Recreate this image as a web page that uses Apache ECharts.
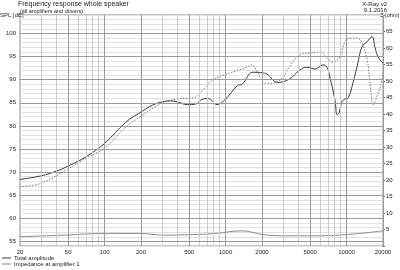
<!DOCTYPE html>
<html>
<head>
<meta charset="utf-8">
<script src="https://cdn.jsdelivr.net/npm/echarts@6/dist/echarts.min.js"></script>
<style>
    html, body { margin: 0; padding: 0; background: #fff; }
    #chart { width: 400px; height: 270px; }
</style>
</head>
<body>
<div id="chart"></div>
<script>
// x-axis labels and grid frequencies (Hz)
const freqLabels = [20, 50, 100, 200, 500, 1000, 2000, 5000, 10000, 20000]
const freqMinor = [30, 40, 60, 70, 80, 90, 300, 400, 600, 700, 800, 900,
    3000, 4000, 6000, 7000, 8000, 9000]
const splLines = [55, 60, 65, 70, 75, 80, 85, 90, 95, 100]

// total amplitude (dB)
const ampFreq = [20, 30, 40, 50, 70, 100, 150, 200, 250, 300, 350, 400, 480, 560, 650, 720, 850, 1000,
    1250, 1370, 1680, 2000, 2200, 2700, 3400, 4100, 4700, 5500, 6380, 6890, 7300, 8020, 8340, 8660,
    9160, 9700, 10280, 11300, 12400, 13400, 14760, 16200, 17200, 18200, 20000]
const ampDb = [68.4, 69.2, 70.2, 71.3, 73.3, 76.2, 80.8, 83, 84.5, 85.2, 85.4, 85.2, 84.6, 84.7, 85.8, 85.9, 84.6, 85.8,
    88.7, 89, 91.6, 91.5, 91.2, 89.4, 90.2, 92.1, 92.7, 92.3, 93.2, 92.7, 90.4, 85.6, 82.4, 82.8,
    85.2, 85.8, 86, 89.3, 93.6, 97.1, 98.2, 99.3, 96.9, 94.9, 93.6]

// second (dotted) response (dB)
const refFreq = [20, 30, 50, 70, 100, 150, 200, 250, 300, 400, 500, 560, 650, 780, 1100, 1500, 1650, 1830,
    2030, 2250, 2650, 3000, 3400, 4100, 5000, 6000, 6900, 7700, 8800, 9700, 10700, 12200, 13400,
    14800, 15600, 16600, 17800, 19000, 20000]
const refDb = [66.8, 67.6, 70.7, 73, 75.2, 79.8, 82.1, 83.8, 85, 85.8, 86, 86.2, 87.8, 89.9, 91.5, 92.7, 93.2, 91.7,
    89.5, 89.2, 89.5, 90.6, 93, 95.3, 95.8, 96, 94.7, 93.8, 94.9, 98.2, 99, 99, 98,
    94.3, 89.5, 84.5, 86.3, 88.4, 91.4]

// impedance (ohm)
const impFreq = [20, 47, 100, 190, 315, 590, 820, 1370, 2000, 2900, 5500, 10300, 20000]
const impOhm = [2.8, 3.3, 3.8, 3.8, 3.3, 3.5, 3.8, 4.6, 3.5, 3.1, 3.1, 3.5, 4.6]

const lg = Math.log10
const pairs = (fs, vs) => fs.map((f, i) => [lg(f), vs[i]])

const font = 'Liberation Sans'
const txt = { color: '#222', fontFamily: font, fontSize: 6 }

const gridLines = []
freqMinor.forEach(f => gridLines.push({ xAxis: lg(f), lineStyle: { color: '#cccccc' } }))
freqLabels.forEach(f => gridLines.push({ xAxis: lg(f), lineStyle: { color: '#9a9a9a' } }))
splLines.forEach(v => gridLines.push({ yAxis: v, lineStyle: { color: '#9a9a9a' } }))

const legendBase = {
    left: 2,
    itemGap: 0,
    itemWidth: 9,
    itemHeight: 1,
    icon: 'rect',
    padding: 0,
    textStyle: { color: '#222', fontFamily: font, fontSize: 6, padding: [0, 0, 0, -2] }
}

const myChart = echarts.init(document.getElementById('chart'))

const option = {
    animation: false,
    backgroundColor: '#fff',
    grid: { left: 20, right: 17, top: 15, bottom: 24, show: true, borderColor: '#888', borderWidth: 1 },
    legend: [
        { ...legendBase, top: 255, data: ['Total amplitude'] },
        { ...legendBase, top: 261, data: ['Impedance at amplifier 1'] }
    ],
    graphic: [
        { type: 'text', left: 18, top: 1, style: { text: 'Frequency response whole speaker', fill: '#222', font: '7px ' + font } },
        { type: 'text', left: 20, top: 8, style: { text: '(all amplifiers and drivers)', fill: '#222', font: '5.5px ' + font } },
        { type: 'text', left: 0, top: 12, style: { text: 'SPL [dB]', fill: '#222', font: '6px ' + font } },
        { type: 'text', right: 13, top: 1, style: { text: 'X-Ray v2', fill: '#222', font: '6px ' + font } },
        { type: 'text', right: 13, top: 7, style: { text: '9.1.2016', fill: '#222', font: '6px ' + font } },
        { type: 'text', right: 1, top: 12, style: { text: 'Z [ohm]', fill: '#222', font: '5.5px ' + font } }
    ],
    xAxis: {
        type: 'value',
        min: lg(20),
        max: lg(20000),
        axisLine: { show: false },
        axisTick: { show: false },
        splitLine: { show: false },
        axisLabel: {
            ...txt,
            margin: 3,
            customValues: freqLabels.map(lg),
            formatter: v => String(Math.round(Math.pow(10, v)))
        }
    },
    yAxis: [
        {
            type: 'value',
            min: 54,
            max: 104,
            interval: 1,
            axisLine: { show: false },
            axisTick: { show: false },
            splitLine: { lineStyle: { color: '#e2e2e2', width: 1 } },
            axisLabel: { ...txt, margin: 4, formatter: v => (v % 5 === 0 ? String(v) : '') }
        },
        {
            type: 'value',
            min: 0,
            max: 70,
            interval: 5,
            axisLine: { show: false },
            axisTick: { show: true, length: 2, lineStyle: { color: '#666' } },
            splitLine: { show: false },
            axisLabel: { ...txt, margin: 3, formatter: v => (v > 0 && v < 70 ? String(v) : '') }
        }
    ],
    series: [
        {
            name: 'Grid',
            type: 'line',
            data: [],
            silent: true,
            markLine: {
                silent: true,
                symbol: 'none',
                label: { show: false },
                animation: false,
                lineStyle: { type: 'solid', width: 1 },
                data: gridLines
            }
        },
        {
            name: 'Impedance at amplifier 1',
            type: 'line',
            yAxisIndex: 1,
            data: pairs(impFreq, impOhm),
            smooth: 0.4,
            showSymbol: false,
            lineStyle: { color: '#8a8a8a', width: 1 },
            itemStyle: { color: '#8a8a8a' }
        },
        {
            name: 'Reference',
            type: 'line',
            data: pairs(refFreq, refDb),
            smooth: 0.4,
            showSymbol: false,
            lineStyle: { color: '#777', width: 1, type: [1.5, 1.5] },
            itemStyle: { color: '#777' }
        },
        {
            name: 'Total amplitude',
            type: 'line',
            data: pairs(ampFreq, ampDb),
            smooth: 0.4,
            showSymbol: false,
            lineStyle: { color: '#3c3c3c', width: 1 },
            itemStyle: { color: '#3c3c3c' }
        }
    ]
}

myChart.setOption(option)

window.addEventListener('resize', function () {
    myChart.resize()
})
</script>
</body>
</html>
